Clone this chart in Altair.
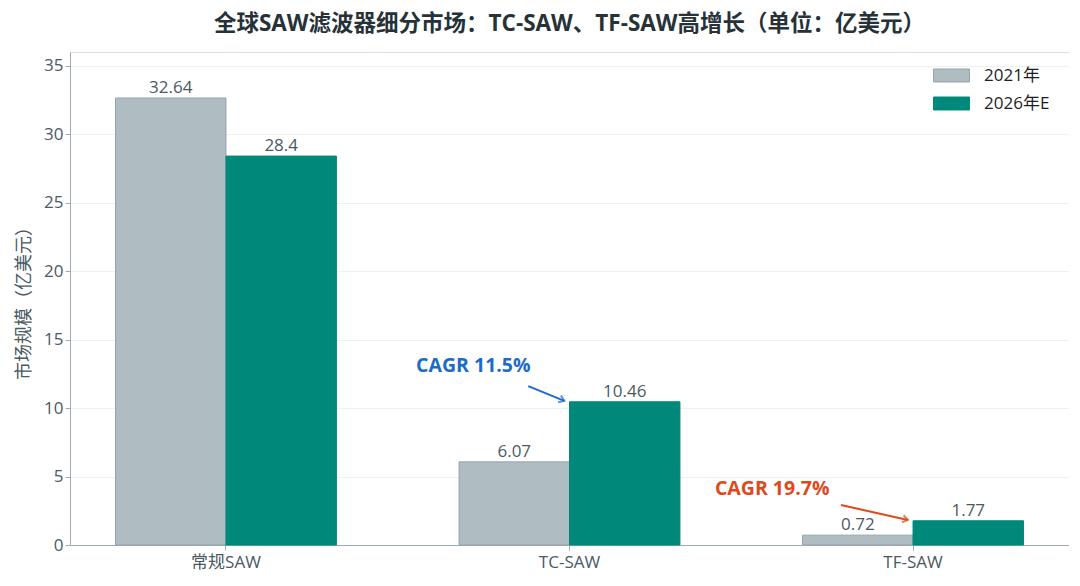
import altair as alt
import pandas as pd
import math

categories = ["常规SAW", "TC-SAW", "TF-SAW"]
series = ["2021年", "2026年E"]
v2021 = [32.64, 6.07, 0.72]
v2026 = [28.4, 10.46, 1.77]

ann_text = ["CAGR 11.5%", "CAGR 19.7%"]
ann_color = ["#1E6BC6", "#DD4A1B"]
ann_text_x = [0.72, 1.59]
ann_text_y = [13.07, 4.09]
arrow_x0 = [0.88, 1.79]
arrow_y0 = [11.6, 2.92]
arrow_x1 = [0.985, 1.985]
arrow_y1 = [10.52, 1.83]

rows = []
for c, a, b in zip(categories, v2021, v2026):
    rows.append({"cat": c, "series": series[0], "value": a, "label": str(a)})
    rows.append({"cat": c, "series": series[1], "value": b, "label": str(b)})
df = pd.DataFrame(rows)

W, H = 999, 493
YMAX = 36
PI, PO = 0.357, 0.1325
step = W / (len(categories) - PI + 2 * PO)
center0 = PO + (1 - PI) / 2
xdom = [-center0, W / step - center0]
px_x = step
px_y = H / YMAX

ann = pd.DataFrame({
    "text": ann_text, "color": ann_color,
    "tx": ann_text_x, "ty": ann_text_y,
    "x0": arrow_x0, "y0": arrow_y0, "x1": arrow_x1, "y1": arrow_y1,
})
ann["angle"] = [
    (math.degrees(math.atan2(-(r.y1 - r.y0) * px_y, (r.x1 - r.x0) * px_x)) + 360) % 360
    for r in ann.itertuples()
]

FONT = "Open Sans, Noto Sans CJK SC"
TXT = "#4A5A63"

xband = alt.X("cat:N", sort=categories, title=None,
              scale=alt.Scale(paddingInner=PI, paddingOuter=PO),
              axis=alt.Axis(labelFontSize=17, labelColor=TXT, labelAngle=0, labelPadding=4,
                            domainColor="#9EABB2", tickColor="#9EABB2", tickSize=5,
                            grid=False, labelFont=FONT))
yq = alt.Y("value:Q", title="市场规模（亿美元）",
           scale=alt.Scale(domain=[0, YMAX], nice=False),
           axis=alt.Axis(values=list(range(0, 36, 5)), labelFontSize=17, labelColor=TXT,
                         titleFontSize=18, titleColor=TXT, titleFontWeight="normal",
                         domainColor="#9EABB2", tickColor="#9EABB2", tickSize=5,
                         gridColor="#EEF1F3", labelFont=FONT, titleFont=FONT, titlePadding=10))

bars = alt.Chart(df).mark_bar(strokeWidth=1).encode(
    x=xband,
    xOffset=alt.XOffset("series:N", sort=series),
    y=yq,
    fill=alt.Fill("series:N", sort=series, title=None,
                  scale=alt.Scale(domain=series, range=["#AFBCC2", "#00897B"]),
                  legend=alt.Legend(orient="none", legendX=873, legendY=15,
                                    symbolType="M-2.5,-0.9H2.5V0.9H-2.5Z", symbolSize=207,
                                    labelFontSize=17, labelColor="#1E1E1E", labelFont=FONT,
                                    rowPadding=10, labelOffset=24, symbolStrokeWidth=1)),
    stroke=alt.Stroke("series:N", sort=series, title=None,
                      scale=alt.Scale(domain=series, range=["#93A4AC", "#00897B"]),
                      legend=None),
)

labels = alt.Chart(df).mark_text(baseline="bottom", dy=-1, fontSize=17, color=TXT, font=FONT).encode(
    x=xband,
    xOffset=alt.XOffset("series:N", sort=series),
    y=alt.Y("value:Q"),
    text="label:N",
)

xs = alt.Scale(domain=xdom, nice=False, zero=False)

ann_txt = alt.Chart(ann).mark_text(fontSize=19.5, fontWeight="bold", font=FONT).encode(
    x=alt.X("tx:Q", scale=xs, axis=None),
    y=alt.Y("ty:Q"),
    text="text:N",
    color=alt.Color("color:N", scale=None),
)
ann_line = alt.Chart(ann).mark_rule(strokeWidth=2).encode(
    x=alt.X("x0:Q", scale=xs, axis=None),
    x2="x1:Q",
    y=alt.Y("y0:Q"),
    y2="y1:Q",
    color=alt.Color("color:N", scale=None),
)
ann_head = alt.Chart(ann).mark_point(shape="M-1,-0.7L0,0L-1,0.7", filled=False, strokeWidth=2, size=110).encode(
    x=alt.X("x1:Q", scale=xs, axis=None),
    y=alt.Y("y1:Q"),
    angle=alt.Angle("angle:Q", scale=None),
    color=alt.Color("color:N", scale=None),
)

annotations = alt.layer(ann_line, ann_head, ann_txt)

chart = alt.layer(alt.layer(bars, labels), annotations).resolve_scale(x="independent").properties(
    width=W, height=H,
    padding={"top": 4, "left": 7, "right": 0, "bottom": 5},
    title=alt.Title("全球SAW滤波器细分市场：TC-SAW、TF-SAW高增长（单位：亿美元）",
                    fontSize=22.5, fontWeight="bold", color="#263238", font=FONT, offset=17),
).configure_view(strokeWidth=0, stroke="transparent").configure(background="white")

chart.save("out.html", embed_options={"renderer": "svg", "actions": False})
